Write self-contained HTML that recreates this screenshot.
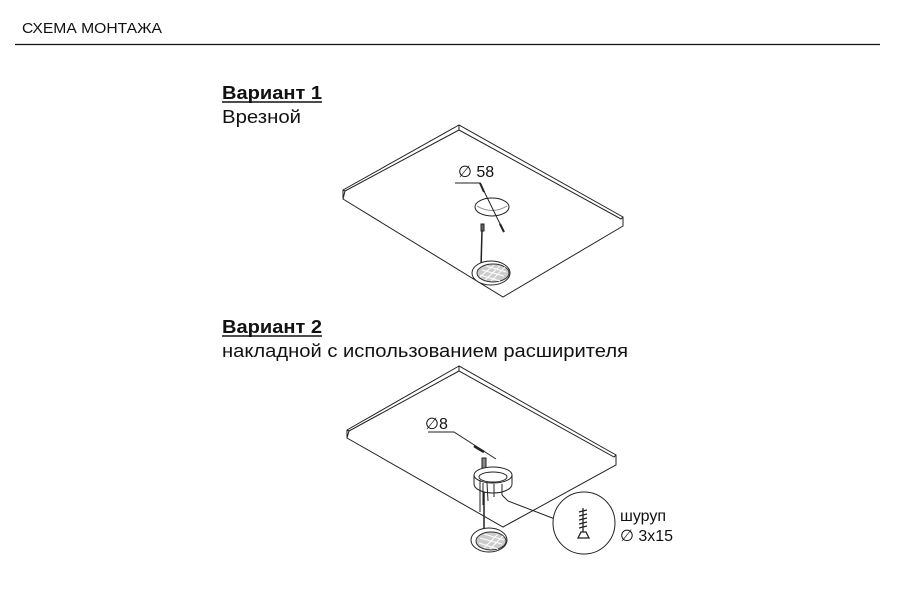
<!DOCTYPE html>
<html><head><meta charset="utf-8"><style>
html,body{margin:0;padding:0;background:#fff;}
svg{display:block;font-family:"Liberation Sans",Arial,sans-serif;}
</style></head><body>
<svg width="900" height="597" viewBox="0 0 900 597" xmlns="http://www.w3.org/2000/svg">
<rect width="900" height="597" fill="#fff"/>
<text x="22" y="33" font-size="15" fill="#111" textLength="140" lengthAdjust="spacingAndGlyphs">СХЕМА МОНТАЖА</text>
<line x1="15" y1="44.5" x2="880" y2="44.5" stroke="#111" stroke-width="1.2"/>

<text x="222" y="99" font-size="18" font-weight="bold" fill="#111" textLength="100" lengthAdjust="spacingAndGlyphs">Вариант 1</text>
<line x1="222" y1="102" x2="322" y2="102" stroke="#111" stroke-width="1.5"/>
<text x="222" y="123" font-size="18" fill="#111" textLength="79" lengthAdjust="spacingAndGlyphs">Врезной</text>

<text x="222" y="333" font-size="18" font-weight="bold" fill="#111" textLength="100" lengthAdjust="spacingAndGlyphs">Вариант 2</text>
<line x1="222" y1="336" x2="322" y2="336" stroke="#111" stroke-width="1.5"/>
<text x="222" y="357" font-size="18" fill="#111" textLength="406" lengthAdjust="spacingAndGlyphs">накладной с использованием расширителя</text>

<g fill="none" stroke="#222" stroke-width="1">
<!-- board 1 -->
<polygon points="459,125 343,190 343,199 503,297 623,226 623,217" fill="#fff"/>
<polyline points="343,190 345,191 459,130 621,219 623,217"/>
<line x1="459" y1="125" x2="459" y2="130"/>
<line x1="343" y1="199" x2="345" y2="191"/>
<!-- hole -->
<ellipse cx="492" cy="207" rx="17" ry="9" fill="#fff"/>
<path d="M477,206 Q492,215 507,206" stroke="#888"/>
<polyline points="455,183 480,183 504,232"/>
<path d="M480,183 l4,9 M504,232 l-4,-8" stroke-width="2"/>
<text x="458" y="177" font-size="16" fill="#111" stroke="none">∅ 58</text>
<!-- wire + light 1 -->
<rect x="481" y="224" width="3" height="7" fill="#666"/>
<line x1="482" y1="231" x2="481" y2="267" stroke-width="1.5"/>
<ellipse cx="491" cy="273" rx="19" ry="12" fill="#fff"/>
<ellipse cx="493" cy="273" rx="16" ry="9" fill="#ccc" stroke="#333"/>
<g stroke="#fff" stroke-width="1"><line x1="482" y1="270" x2="504" y2="276"/><line x1="480" y1="275" x2="500" y2="281"/><line x1="486" y1="266" x2="506" y2="272"/><line x1="485" y1="280" x2="500" y2="266"/><line x1="491" y1="281" x2="505" y2="267"/><line x1="480" y1="277" x2="494" y2="265"/></g>

<!-- board 2 -->
<polygon points="459,366 347,430 347,438 503,527 616,465 616,455" fill="#fff"/>
<polyline points="347,430 349,431 459,371 614,457 616,455"/>
<line x1="459" y1="366" x2="459" y2="371"/>
<line x1="347" y1="438" x2="349" y2="431"/>
<polyline points="428,432 454,432 496,459"/>
<path d="M474,446 l10,6" stroke-width="2.5"/>
<text x="425" y="429" font-size="16" fill="#111" stroke="none">∅8</text>
<!-- expander -->
<rect x="482" y="458" width="4" height="10" fill="#888"/>
<path d="M474,475 v9 a19,9 0 0 0 38,0 v-9" fill="#fff"/>
<ellipse cx="493" cy="475" rx="19" ry="8" fill="#fff"/>
<ellipse cx="493" cy="477" rx="14" ry="5"/>
<g stroke-width="1"><line x1="483" y1="483" x2="483" y2="505"/><line x1="487" y1="483" x2="488" y2="501"/><line x1="494" y1="484" x2="494" y2="497"/><line x1="502" y1="484" x2="502" y2="495"/><line x1="480" y1="480" x2="480" y2="512"/></g>
<line x1="484" y1="492" x2="484" y2="530" stroke-width="1.5"/>
<polyline points="502,495 508,501 555,519"/>
<!-- light 2 -->
<ellipse cx="489" cy="540" rx="18" ry="12" fill="#fff"/>
<ellipse cx="491" cy="541" rx="15" ry="9" fill="#ccc" stroke="#333"/>
<g stroke="#fff"><line x1="480" y1="538" x2="502" y2="544"/><line x1="479" y1="543" x2="498" y2="549"/><line x1="484" y1="534" x2="504" y2="540"/><line x1="484" y1="548" x2="498" y2="534"/><line x1="490" y1="549" x2="503" y2="536"/></g>
<!-- magnifier -->
<circle cx="584" cy="523" r="31" fill="#fff"/>
<path d="M583,508 v24 M579,512 l8,-2 M579,516 l8,-2 M579,520 l8,-2 M579,524 l8,-2 M579,528 l8,-2 M578,538 h11 l-3,-6 h-5 z" stroke-width="1.3"/>
</g>
<text x="620" y="521" font-size="16" fill="#111">шуруп</text>
<text x="620" y="541" font-size="16" fill="#111">∅ 3x15</text>
</svg>
</body></html>
